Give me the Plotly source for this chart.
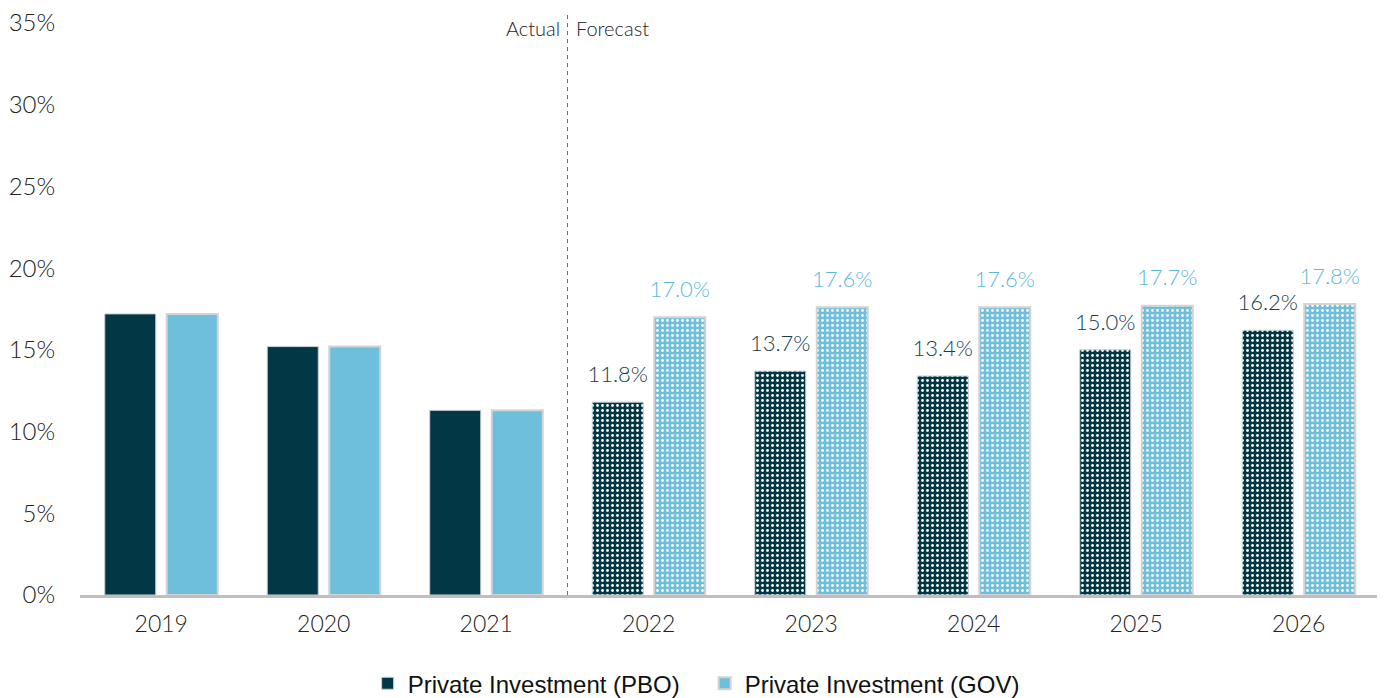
import plotly.graph_objects as go

years = ["2019", "2020", "2021", "2022", "2023", "2024", "2025", "2026"]
pbo = [17.2, 15.2, 11.3, 11.8, 13.7, 13.4, 15.0, 16.2]
gov = [17.2, 15.2, 11.3, 17.0, 17.6, 17.6, 17.7, 17.8]
is_forecast = [False, False, False, True, True, True, True, True]
y_ticks = [0, 5, 10, 15, 20, 25, 30, 35]

PBO_C = "#023845"
GOV_C = "#6dbfdc"
PBO_T = "#12424d"
GOV_T = "#5db9d9"
FONT = "Lato"
GAP = 0.237

shapes_pat = ["." if f else "" for f in is_forecast]

fig = go.Figure()
fig.add_trace(go.Bar(
    x=years, y=pbo, name="Private Investment (PBO)", offsetgroup="pbo",
    marker=dict(color=PBO_C, line=dict(color="#c8d0d2", width=1),
                pattern=dict(shape=shapes_pat, fgcolor="white", bgcolor=PBO_C,
                             size=5, solidity=0.25, fillmode="replace")),
    hoverinfo="skip",
))
fig.add_trace(go.Bar(
    x=years, y=gov, name="Private Investment (GOV)", offsetgroup="gov",
    marker=dict(color=GOV_C, line=dict(color="#d3d3d3", width=2),
                pattern=dict(shape=shapes_pat, fgcolor="white", bgcolor=GOV_C,
                             size=5, solidity=0.25, fillmode="replace")),
    hoverinfo="skip",
))

fx = [y for y, f in zip(years, is_forecast) if f]
fp = [v for v, f in zip(pbo, is_forecast) if f]
fg = [v for v, f in zip(gov, is_forecast) if f]
for vals, grp, col in ((fp, "pbo", PBO_T), (fg, "gov", GOV_T)):
    fig.add_trace(go.Scatter(
        x=fx, y=vals, mode="markers+text", text=[f"{v:.1f}%" for v in vals],
        offsetgroup=grp, marker=dict(size=22, opacity=0),
        textposition="top center",
        textfont=dict(family=FONT, size=22, color=col, weight=300),
        showlegend=False, hoverinfo="skip",
    ))

fig.update_layout(
    width=1385, height=698,
    paper_bgcolor="white", plot_bgcolor="white",
    barmode="group", bargap=GAP, bargroupgap=0.177,
    scattermode="group", scattergap=GAP,
    margin=dict(l=72, r=13, t=15, b=111),
    font=dict(family=FONT, size=22, color="#222222"),
    xaxis=dict(showgrid=False, showline=True, linecolor="#bfbfbf", linewidth=2.5,
               ticks="outside", ticklen=7, tickcolor="rgba(0,0,0,0)", automargin=False,
               tickfont=dict(family=FONT, size=23, color="#222222", weight=300)),
    yaxis=dict(range=[0, 35], tickvals=y_ticks, ticktext=[f"{t}%" for t in y_ticks],
               showgrid=False, zeroline=False, showline=False, automargin=False,
               ticklabeloverflow="allow",
               ticks="outside", ticklen=19, tickcolor="rgba(0,0,0,0)",
               tickfont=dict(family=FONT, size=24, color="#222222", weight=300)),
    legend=dict(orientation="h", x=0.4805, xanchor="center", yref="container",
                y=0.032, yanchor="middle", entrywidth=292, entrywidthmode="pixels",
                font=dict(family="Liberation Sans", size=24, color="#111111"),
                itemwidth=30, traceorder="normal"),
    shapes=[dict(type="line", xref="x", yref="paper", x0=2.5, x1=2.5, y0=0, y1=1.014,
                 line=dict(color="#6f6f6f", width=1, dash="4px,4px"))],
    annotations=[
        dict(xref="x", yref="paper", x=2.5, y=0.991, yanchor="middle", text="Actual",
             showarrow=False, xanchor="right", xshift=-6,
             font=dict(family=FONT, size=20, color="#222222", weight=300)),
        dict(xref="x", yref="paper", x=2.5, y=0.991, yanchor="middle", text="Forecast",
             showarrow=False, xanchor="left", xshift=6,
             font=dict(family=FONT, size=20, color="#222222", weight=300)),
    ],
)

fig.write_html("out.html")
